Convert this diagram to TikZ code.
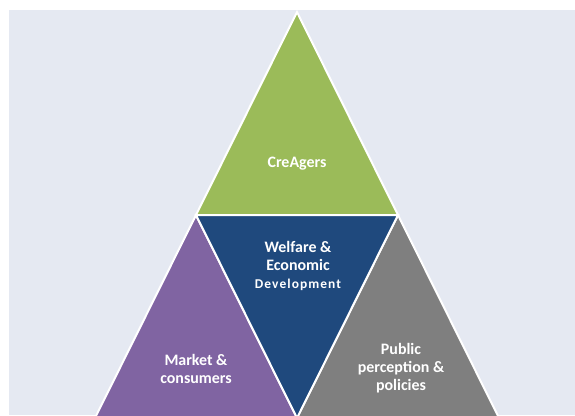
\documentclass[tikz,border=0pt]{standalone}
\usepackage{fontspec}
\setmainfont{Carlito}
\definecolor{bgpanel}{HTML}{E5E9F2}
\definecolor{leafgreen}{HTML}{9BBB59}
\definecolor{navy}{HTML}{1F497D}
\definecolor{violet}{HTML}{8064A2}
\definecolor{slate}{HTML}{7F7F7F}
\tikzset{
  facet/.style={draw=white, line width=2bp, line join=miter},
  label/.style={text=white, font=\bfseries\fontsize{16}{17.8}\selectfont, align=center, inner sep=0pt}
}
\begin{document}
\begin{tikzpicture}[x=1bp, y=-1bp]
  \useasboundingbox (0,0) rectangle (575,415);
  \fill[white] (0,0) rectangle (575,415);
  \fill[bgpanel] (9,10) rectangle (575,415);
  % corner points of the large triangle and its edge midpoints
  \coordinate (apex) at (297,12);
  \coordinate (midL) at (196,215);
  \coordinate (midR) at (398,215);
  \coordinate (botL) at (95,418);
  \coordinate (botM) at (297,418);
  \coordinate (botR) at (499,418);
  \begin{scope}
    \clip (0,0) rectangle (575,415);
    \filldraw[facet, fill=leafgreen] (apex) -- (midL) -- (midR) -- cycle;
    \filldraw[facet, fill=violet] (midL) -- (botL) -- (botM) -- cycle;
    \filldraw[facet, fill=slate] (midR) -- (botM) -- (botR) -- cycle;
    \filldraw[facet, fill=navy] (midL) -- (midR) -- (botM) -- cycle;
  \end{scope}
  \node[label] (top) at (297,164) {CreAgers};
  \node[label] (centre) at (298,266) {Welfare \&\\Economic\\{\fontsize{13.5}{17.8}\selectfont\addfontfeature{LetterSpace=8}Development}};
  \node[label] (left) at (196,369) {Market \&\\consumers};
  \node[label] (right) at (401,368) {Public\\perception \&\\policies};
\end{tikzpicture}
\end{document}
